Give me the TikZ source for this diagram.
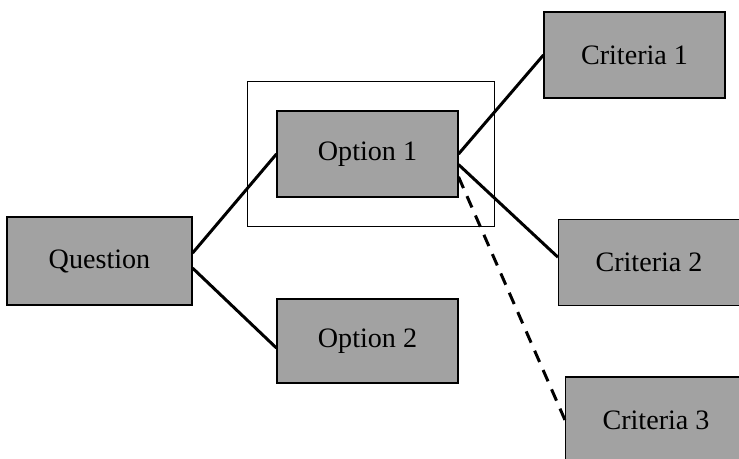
\documentclass[tikz,border=0pt]{standalone}
\usepackage{fontspec}
\setmainfont{Liberation Serif}
\usepackage{xcolor}
\usetikzlibrary{positioning}

\definecolor{boxgray}{RGB}{162,162,162}

\begin{document}
\begin{tikzpicture}[every node/.style={on grid},
    box/.style={draw,fill=boxgray,line width=0.6pt,minimum width=3.62cm,minimum height=1.72cm,inner sep=0pt,font=\fontsize{16}{19}\selectfont},
    link/.style={line width=1.7pt},
    dashlink/.style={line width=1.7pt,dash pattern=on 7pt off 5pt}]
    \useasboundingbox (0,0) rectangle (14.78,-9.18);
    \node[box,minimum width=3.7cm,minimum height=1.76cm] (q) at (1.99,-5.22) {Question};
    \node[box,above right=2.14cm and 5.36cm of q] (o1) {Option 1};
    \node[box,below right=1.6cm and 5.36cm of q,minimum height=1.68cm] (o2) {Option 2};
    \node[box,above right=1.98cm and 5.34cm of o1] (c1) {Criteria 1};
    \node[box,below right=2.17cm and 5.63cm of o1] (c2) {Criteria 2};
    \node[box,below right=5.32cm and 5.77cm of o1] (c3) {Criteria 3};
    \draw[line width=0.6pt] ([shift={(-0.58cm,0.58cm)}]o1.north west) rectangle ([shift={(0.72cm,-0.58cm)}]o1.south east);
    \draw[link] ([yshift=4.5pt]q.east) -- (o1.west);
    \draw[link] ([yshift=-4pt]q.east) -- ([yshift=-4pt]o2.west);
    \draw[link] (o1.east) -- (c1.west);
    \draw[link] ([yshift=-6pt]o1.east) -- ([yshift=3pt]c2.west);
    \draw[dashlink] ([yshift=-13pt]o1.east) -- (c3.west);
  \end{tikzpicture}
\end{document}
